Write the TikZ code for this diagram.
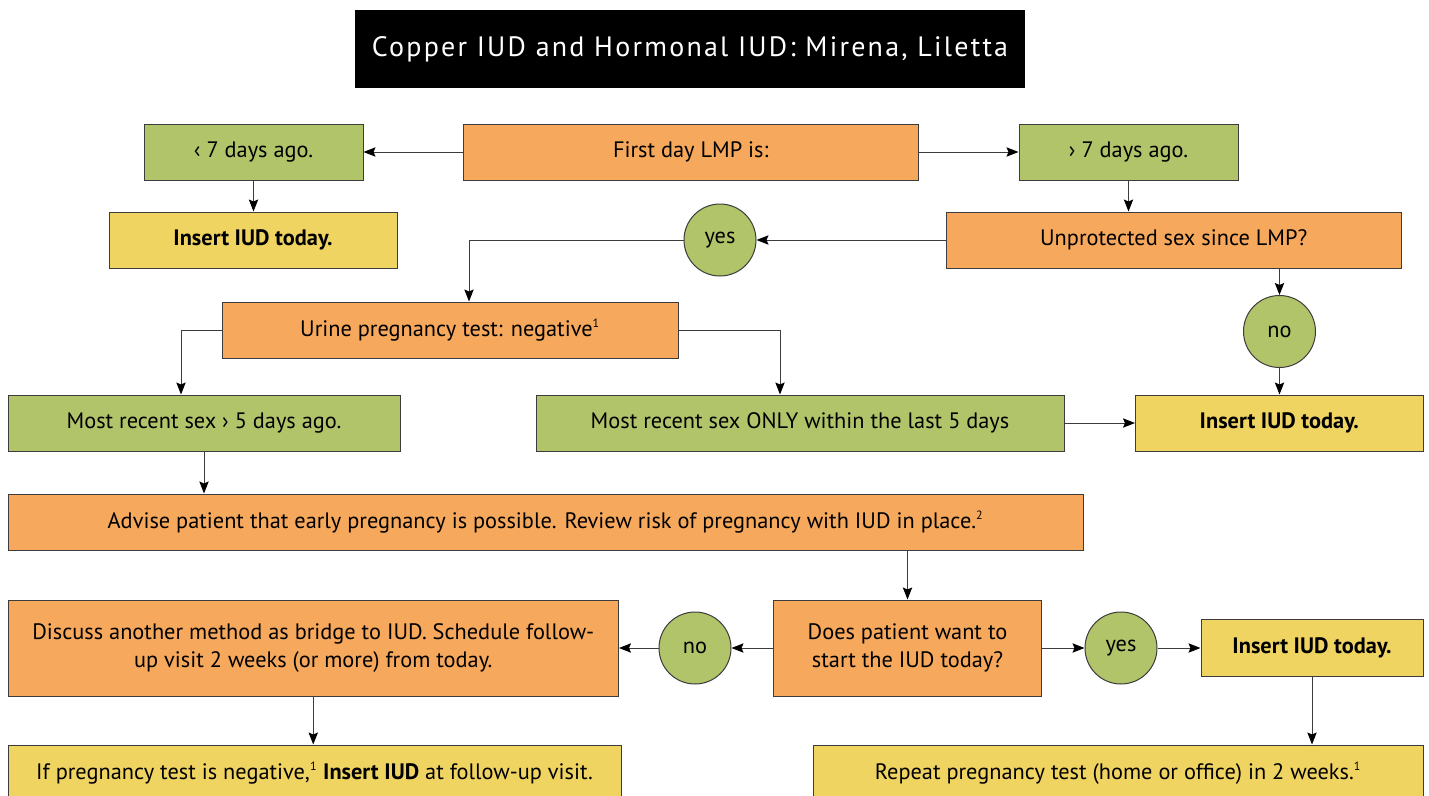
\documentclass[tikz,border=0pt]{standalone}
\usepackage{fontspec}
\setmainfont{PT Sans}
\newfontfamily\titlefont[LetterSpace=8]{PT Sans}
\usetikzlibrary{arrows.meta}

\definecolor{bxgreen}{RGB}{177,196,106}
\definecolor{bxorange}{RGB}{246,168,92}
\definecolor{bxyellow}{RGB}{240,212,98}
\definecolor{lncolor}{RGB}{60,60,60}

\newcommand{\fnmark}[1]{\textsuperscript{\fontsize{9}{9}\selectfont #1}}

\tikzset{
    box/.style 2 args={draw=lncolor, line width=0.75pt, minimum width=#1*0.75pt, minimum height=#2*0.75pt, inner sep=0pt, align=center, font=\fontsize{16.75}{21}\selectfont},
    greenbox/.style 2 args={box={#1}{#2}, fill=bxgreen},
    orangebox/.style 2 args={box={#1}{#2}, fill=bxorange},
    yellowbox/.style 2 args={box={#1}{#2}, fill=bxyellow},
    answer/.style={circle, draw=lncolor, line width=0.75pt, fill=bxgreen, minimum size=54pt, inner sep=0pt, font=\fontsize{16.75}{21}\selectfont},
    flow/.style={draw=lncolor, line width=0.75pt, -{Stealth[length=9pt,width=7pt,inset=1.5pt,color=black]}},
}

\begin{document}
\begin{tikzpicture}[x=0.75pt,y=0.75pt,yscale=-1,xscale=1]
        \useasboundingbox (0,0) rectangle (1429,796);
        \clip (0,0) rectangle (1429,796);

        % Title
        \node [fill=black, text=white, minimum width=502.5pt, minimum height=58.5pt, inner sep=0pt, font=\titlefont\fontsize{21}{24}\selectfont] (title) at (690,49) {Copper IUD and Hormonal IUD: Mirena, Liletta};

        % Boxes
        \node [orangebox={455.5}{56}] (first) at (690.75,152) {First day LMP is:};
        \node [greenbox={219}{56}] (lt7) at (253.5,152) {‹ 7 days ago.};
        \node [greenbox={219}{56}] (gt7) at (1128.5,152) {› 7 days ago.};
        \node [yellowbox={288}{56}] (ins1) at (253,240) {\textbf{Insert IUD today.}};
        \node [orangebox={455.5}{56}] (unprot) at (1173.75,240) {Unprotected sex since LMP?};
        \node [answer] (yes1) at (720,240) {yes};
        \node [answer] (no1) at (1279.5,331.5) {no};
        \node [orangebox={456}{56}] (urine) at (450,330) {Urine pregnancy test: negative\fnmark{1}};
        \node [greenbox={392}{56}] (recent5) at (204,423) {Most recent sex › 5 days ago.};
        \node [greenbox={528}{56}] (only5) at (800,423) {Most recent sex ONLY within the last 5 days};
        \node [yellowbox={287.5}{56}] (ins2) at (1279.25,423) {\textbf{Insert IUD today.}};
        \node [orangebox={1075}{56}] (advise) at (545.5,522) {Advise patient that early pregnancy is possible. Review risk of pregnancy with IUD in place.\fnmark{2}};
        \node [orangebox={268}{96}] (want) at (907.5,648) {Does patient want to\\start the IUD today?};
        \node [orangebox={610.5}{96}] (discuss) at (313.25,648) {Discuss another method as bridge to IUD. Schedule follow-\\up visit 2 weeks (or more) from today.};
        \node [answer] (no2) at (695,648) {no};
        \node [answer] (yes2) at (1121,648) {yes};
        \node [yellowbox={222}{57}] (ins3) at (1312,648) {\textbf{Insert IUD today.}};
        \node [yellowbox={613}{56}] (ifpreg) at (314.5,773) {If pregnancy test is negative,\fnmark{1} \textbf{Insert IUD} at follow-up visit.};
        \node [yellowbox={610}{56}] (repeat) at (1118,773) {Repeat pregnancy test (home or office) in 2 weeks.\fnmark{1}};

        %Straight Lines
        \draw [flow] (first.west) -- (lt7.east);
        \draw [flow] (first.east) -- (gt7.west);
        \draw [flow] (lt7.south) -- (lt7.south |- ins1.north);
        \draw [flow] (gt7.south) -- (gt7.south |- unprot.north);
        \draw [flow] (unprot.west) -- (yes1.east);
        \draw [flow] (yes1.west) -| ([xshift=14.25pt]urine.north);
        \draw [flow] (unprot.south -| no1) -- (no1.north);
        \draw [flow] (no1.south) -- (no1.south |- ins2.north);
        \draw [flow] (urine.west) -| ([xshift=-17.25pt]recent5.north);
        \draw [flow] (urine.east) -| ([xshift=-15pt]only5.north);
        \draw [flow] (only5.east) -- (ins2.west);
        \draw [flow] (recent5.south) -- (recent5.south |- advise.north);
        \draw [flow] (advise.south -| want.north) -- (want.north);
        \draw [flow] (want.west) -- (no2.east);
        \draw [flow] (no2.west) -- (discuss.east);
        \draw [flow] (want.east) -- (yes2.west);
        \draw [flow] (yes2.east) -- (ins3.west);
        \draw [flow] (discuss.south) -- (discuss.south |- ifpreg.north);
        \draw [flow] (ins3.south) -- (ins3.south |- repeat.north);

\end{tikzpicture}
\end{document}
